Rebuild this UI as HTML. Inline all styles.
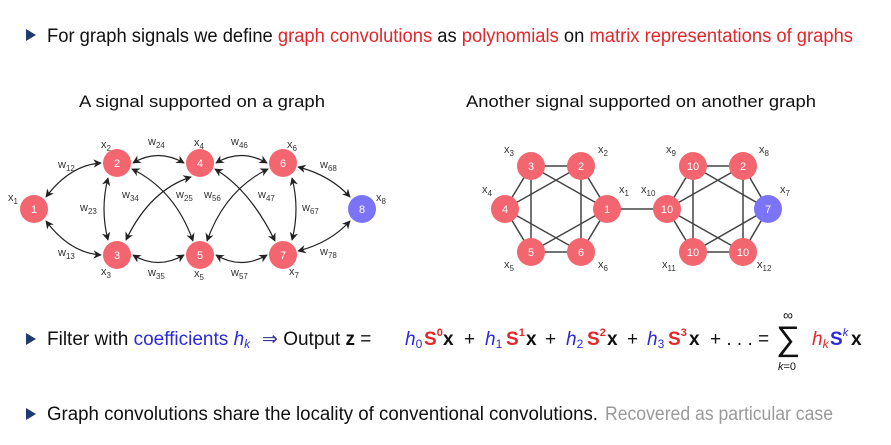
<!DOCTYPE html>
<html><head><meta charset="utf-8"><style>
html,body{margin:0;padding:0;background:#fff;}
svg{display:block;}
text{font-family:"Liberation Sans Narrow","Liberation Sans",sans-serif;}
.n{fill:#fff;font-size:11px;text-anchor:middle;font-family:"DejaVu Sans",sans-serif;}
.l{fill:#333;font-size:11px;font-family:"DejaVu Sans",sans-serif;}
.s{font-size:8px;}
</style></head><body>
<svg width="891" height="445" viewBox="0 0 891 445" xmlns="http://www.w3.org/2000/svg">
<defs>
<marker id="a" viewBox="0 0 10 10" refX="9" refY="5" markerWidth="7" markerHeight="7" orient="auto-start-reverse"><path d="M0,0 L10,5 L0,10 L3,5 z" fill="#222"/></marker>
</defs>
<!-- title -->
<polygon points="26,29 36,35 26,41" fill="#1f3a6e"/>
<text x="47" y="42" font-size="19" textLength="806" lengthAdjust="spacingAndGlyphs" fill="#111">For graph signals we define <tspan fill="#e3262b">graph convolutions</tspan> as <tspan fill="#e3262b">polynomials</tspan> on <tspan fill="#e3262b">matrix representations of graphs</tspan></text>
<text x="79" y="107" font-size="17" textLength="246" lengthAdjust="spacingAndGlyphs" fill="#111">A signal supported on a graph</text>
<text x="466" y="107" font-size="17" textLength="350" lengthAdjust="spacingAndGlyphs" fill="#111">Another signal supported on another graph</text>

<!-- left graph edges -->
<g fill="none" stroke="#222" stroke-width="1.2" marker-start="url(#a)" marker-end="url(#a)">
<path d="M46,197 Q70,165 101,163"/>
<path d="M46,221 Q70,253 101,255"/>
<path d="M133,163 Q158,148 184,163"/>
<path d="M216,163 Q241,148 267,163"/>
<path d="M133,255 Q158,270 184,255"/>
<path d="M216,255 Q241,270 267,255"/>
<path d="M108,178 Q100,209 108,240"/>
<path d="M292,178 Q300,209 292,240"/>
<path d="M126,240 Q150,190 191,177"/>
<path d="M132,169 Q175,190 193,241"/>
<path d="M207,241 Q225,190 268,169"/>
<path d="M215,169 Q250,190 275,241"/>
<path d="M298,167 Q330,175 350,197"/>
<path d="M298,251 Q330,243 350,221"/>
</g>
<g fill="#f36670">
<circle cx="34" cy="209" r="14"/><circle cx="117" cy="163" r="14"/><circle cx="200" cy="163" r="14"/><circle cx="283" cy="163" r="14"/>
<circle cx="117" cy="255" r="14"/><circle cx="200" cy="255" r="14"/><circle cx="283" cy="255" r="14"/>
</g>
<circle cx="362" cy="209" r="14" fill="#7b74f7"/>
<g class="n">
<text x="34" y="213">1</text><text x="117" y="167">2</text><text x="200" y="167">4</text><text x="283" y="167">6</text>
<text x="117" y="259">3</text><text x="200" y="259">5</text><text x="283" y="259">7</text><text x="362" y="213">8</text>
</g>
<g class="l">
<text x="8" y="201">x<tspan class="s" dy="3">1</tspan></text>
<text x="101" y="148">x<tspan class="s" dy="3">2</tspan></text>
<text x="194" y="146">x<tspan class="s" dy="3">4</tspan></text>
<text x="287" y="148">x<tspan class="s" dy="3">6</tspan></text>
<text x="376" y="201">x<tspan class="s" dy="3">8</tspan></text>
<text x="101" y="275">x<tspan class="s" dy="3">3</tspan></text>
<text x="194" y="277">x<tspan class="s" dy="3">5</tspan></text>
<text x="289" y="275">x<tspan class="s" dy="3">7</tspan></text>
<text x="58" y="168">w<tspan class="s" dy="3">12</tspan></text>
<text x="58" y="256">w<tspan class="s" dy="3">13</tspan></text>
<text x="80" y="211">w<tspan class="s" dy="3">23</tspan></text>
<text x="148" y="145">w<tspan class="s" dy="3">24</tspan></text>
<text x="231" y="145">w<tspan class="s" dy="3">46</tspan></text>
<text x="122" y="198">w<tspan class="s" dy="3">34</tspan></text>
<text x="176" y="198">w<tspan class="s" dy="3">25</tspan></text>
<text x="204" y="198">w<tspan class="s" dy="3">56</tspan></text>
<text x="258" y="198">w<tspan class="s" dy="3">47</tspan></text>
<text x="302" y="211">w<tspan class="s" dy="3">67</tspan></text>
<text x="320" y="168">w<tspan class="s" dy="3">68</tspan></text>
<text x="320" y="255">w<tspan class="s" dy="3">78</tspan></text>
<text x="148" y="276">w<tspan class="s" dy="3">35</tspan></text>
<text x="231" y="276">w<tspan class="s" dy="3">57</tspan></text>
</g>

<!-- right graph -->
<g stroke="#444" stroke-width="1.5">
<path d="M531,166 L581,166 L607,209 L581,252 L531,252 L505,209 Z" fill="none"/>
<line x1="531" y1="166" x2="531" y2="252"/><line x1="581" y1="166" x2="581" y2="252"/>
<line x1="531" y1="166" x2="607" y2="209"/><line x1="581" y1="166" x2="505" y2="209"/>
<line x1="505" y1="209" x2="581" y2="252"/><line x1="607" y1="209" x2="531" y2="252"/>
<line x1="607" y1="209" x2="667" y2="209"/>
<path d="M693,166 L743,166 L768,209 L743,252 L693,252 L667,209 Z" fill="none"/>
<line x1="693" y1="166" x2="693" y2="252"/><line x1="743" y1="166" x2="743" y2="252"/>
<line x1="693" y1="166" x2="768" y2="209"/><line x1="743" y1="166" x2="667" y2="209"/>
<line x1="667" y1="209" x2="743" y2="252"/><line x1="768" y1="209" x2="693" y2="252"/>
</g>
<g fill="#f36670">
<circle cx="531" cy="166" r="14"/><circle cx="581" cy="166" r="14"/><circle cx="607" cy="209" r="14"/>
<circle cx="505" cy="209" r="14"/><circle cx="531" cy="252" r="14"/><circle cx="581" cy="252" r="14"/>
<circle cx="693" cy="166" r="14"/><circle cx="743" cy="166" r="14"/><circle cx="667" cy="209" r="14"/>
<circle cx="693" cy="252" r="14"/><circle cx="743" cy="252" r="14"/>
</g>
<circle cx="768" cy="209" r="14" fill="#7b74f7"/>
<g class="n">
<text x="531" y="170">3</text><text x="581" y="170">2</text><text x="607" y="213">1</text><text x="505" y="213">4</text>
<text x="531" y="256">5</text><text x="581" y="256">6</text>
<text x="693" y="170">10</text><text x="743" y="170">2</text><text x="667" y="213">10</text><text x="768" y="213">7</text>
<text x="693" y="256">10</text><text x="743" y="256">10</text>
</g>
<g class="l">
<text x="504" y="153">x<tspan class="s" dy="3">3</tspan></text>
<text x="598" y="153">x<tspan class="s" dy="3">2</tspan></text>
<text x="482" y="193">x<tspan class="s" dy="3">4</tspan></text>
<text x="619" y="193">x<tspan class="s" dy="3">1</tspan></text>
<text x="641" y="193">x<tspan class="s" dy="3">10</tspan></text>
<text x="504" y="268">x<tspan class="s" dy="3">5</tspan></text>
<text x="598" y="268">x<tspan class="s" dy="3">6</tspan></text>
<text x="666" y="153">x<tspan class="s" dy="3">9</tspan></text>
<text x="759" y="153">x<tspan class="s" dy="3">8</tspan></text>
<text x="780" y="193">x<tspan class="s" dy="3">7</tspan></text>
<text x="662" y="268">x<tspan class="s" dy="3">11</tspan></text>
<text x="757" y="268">x<tspan class="s" dy="3">12</tspan></text>
</g>

<!-- formula -->
<polygon points="26,333 36,339 26,345" fill="#1f3a6e"/>
<text x="47" y="345" font-size="19" fill="#111">Filter with <tspan fill="#2a2ad8">coefficients <tspan font-style="italic">h</tspan><tspan font-size="12" font-style="italic" dy="3">k</tspan></tspan></text>
<text x="262" y="345" font-size="19" fill="#111"><tspan fill="#3a3a9a">⇒</tspan> Output <tspan font-weight="bold">z</tspan> =</text>
<g font-size="19" font-family="Liberation Sans,sans-serif">
<text x="405" y="345" fill="#2a2ad8" font-style="italic">h<tspan font-size="12" font-style="normal" dy="3">0</tspan></text>
<text x="424" y="345" fill="#e3262b" font-weight="bold">S<tspan font-size="11" dy="-9">0</tspan></text>
<text x="443" y="345" fill="#111" font-weight="bold">x</text>
<text x="464" y="345" fill="#111">+</text>
<text x="485" y="345" fill="#2a2ad8" font-style="italic">h<tspan font-size="12" font-style="normal" dy="3">1</tspan></text>
<text x="506" y="345" fill="#e3262b" font-weight="bold">S<tspan font-size="11" dy="-9">1</tspan></text>
<text x="526" y="345" fill="#111" font-weight="bold">x</text>
<text x="545" y="345" fill="#111">+</text>
<text x="566" y="345" fill="#2a2ad8" font-style="italic">h<tspan font-size="12" font-style="normal" dy="3">2</tspan></text>
<text x="587" y="345" fill="#e3262b" font-weight="bold">S<tspan font-size="11" dy="-9">2</tspan></text>
<text x="607" y="345" fill="#111" font-weight="bold">x</text>
<text x="627" y="345" fill="#111">+</text>
<text x="647" y="345" fill="#2a2ad8" font-style="italic">h<tspan font-size="12" font-style="normal" dy="3">3</tspan></text>
<text x="668" y="345" fill="#e3262b" font-weight="bold">S<tspan font-size="11" dy="-9">3</tspan></text>
<text x="689" y="345" fill="#111" font-weight="bold">x</text>
<text x="710" y="345" fill="#111">+ . . . =</text>
<text x="776" y="350" fill="#111" font-size="34" font-family="DejaVu Sans,sans-serif">∑</text>
<text x="783" y="320" fill="#111" font-size="14">∞</text>
<text x="778" y="370" fill="#111" font-size="11" font-style="italic">k<tspan font-style="normal">=0</tspan></text>
<text x="812" y="345" fill="#e3262b" font-style="italic">h<tspan font-size="12" dy="3">k</tspan></text>
<text x="830" y="345" fill="#2a2ad8" font-weight="bold">S<tspan font-size="11" font-style="italic" font-weight="normal" dy="-9">k</tspan></text>
<text x="851" y="345" fill="#111" font-weight="bold">x</text>
</g>

<!-- last line -->
<polygon points="26,408 36,414 26,420" fill="#1f3a6e"/>
<text x="47" y="420" font-size="19" fill="#111" textLength="551" lengthAdjust="spacingAndGlyphs">Graph convolutions share the locality of conventional convolutions.</text>
<text x="605" y="420" font-size="19" fill="#9a9a9a" textLength="228" lengthAdjust="spacingAndGlyphs">Recovered as particular case</text>
</svg>
</body></html>
